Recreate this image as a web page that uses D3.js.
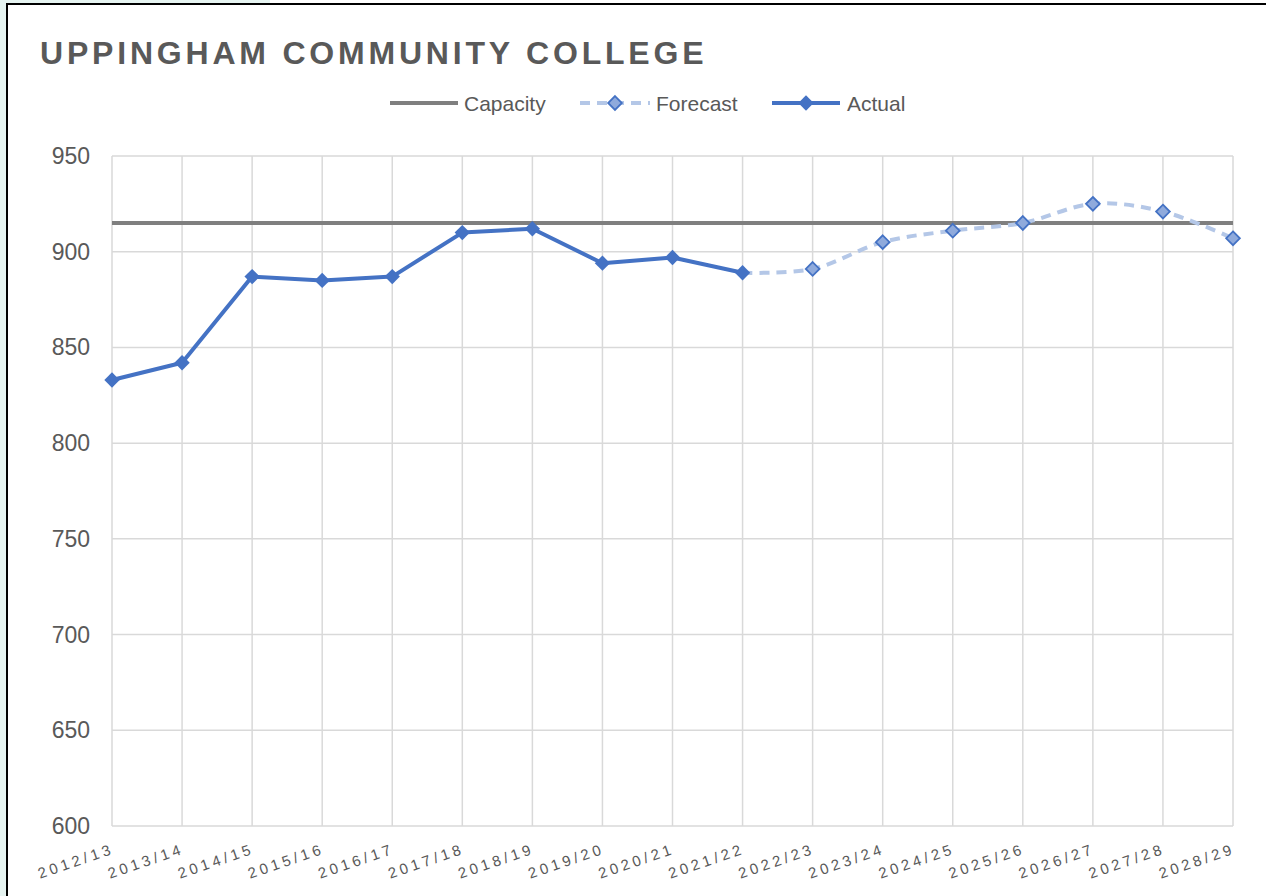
<!DOCTYPE html>
<meta charset="utf-8">
<script src="https://d3js.org/d3.v7.min.js"></script>
<style>
body { margin: 0; background: #fff; }
svg { display: block; }
</style>
<body>
</body>
<script>

// data
var years = ["2012/13", "2013/14", "2014/15", "2015/16", "2016/17", "2017/18", "2018/19",
  "2019/20", "2020/21", "2021/22", "2022/23", "2023/24", "2024/25", "2025/26",
  "2026/27", "2027/28", "2028/29"];
var actual = [833, 842, 887, 885, 887, 910, 912, 894, 897, 889];
var forecastYears = ["2021/22", "2022/23", "2023/24", "2024/25", "2025/26", "2026/27", "2027/28", "2028/29"];
var forecast = [889, 891, 905, 911, 915, 925, 921, 907];
var capacity = 915;
var yTicks = [600, 650, 700, 750, 800, 850, 900, 950];

var width = 1266, height = 896;
var svg = d3.select("body").append("svg")
    .attr("width", width)
    .attr("height", height);

// page background + chart frame
svg.append("rect").attr("width", width).attr("height", height).attr("fill", "#e6f4f1");
svg.append("rect").attr("x", 270).attr("y", 0).attr("width", width - 270).attr("height", 5).attr("fill", "#fff");
svg.append("rect")
    .attr("x", 7).attr("y", 4)
    .attr("width", width + 10).attr("height", height + 10)
    .attr("fill", "#fff")
    .attr("stroke", "#000")
    .attr("stroke-width", 2);

var x = d3.scalePoint().domain(years).range([112, 1233]);
var y = d3.scaleLinear().domain([600, 950]).range([826, 156]);

var font = "'Liberation Sans', Arial, sans-serif";
var grey = "#595959";

// gridlines
svg.append("g").selectAll("line")
  .data(yTicks)
  .enter().append("line")
    .attr("x1", x.range()[0]).attr("x2", x.range()[1])
    .attr("y1", function(d) { return y(d); })
    .attr("y2", function(d) { return y(d); })
    .attr("stroke", "#d9d9d9").attr("stroke-width", 1.5);

svg.append("g").selectAll("line")
  .data(years)
  .enter().append("line")
    .attr("x1", function(d) { return x(d); })
    .attr("x2", function(d) { return x(d); })
    .attr("y1", y(950)).attr("y2", y(600))
    .attr("stroke", "#d9d9d9").attr("stroke-width", 1.5);

// y labels
svg.append("g").selectAll("text")
  .data(yTicks)
  .enter().append("text")
    .attr("x", 90)
    .attr("y", function(d) { return y(d) + 8; })
    .attr("text-anchor", "end")
    .attr("font-family", font)
    .attr("font-size", 23)
    .attr("fill", grey)
    .text(function(d) { return d; });

// x labels (rotated)
svg.append("g").selectAll("text")
  .data(years)
  .enter().append("text")
    .attr("transform", function(d) { return "translate(" + (x(d) + 3) + "," + 853 + ") rotate(-19)"; })
    .attr("text-anchor", "end")
    .attr("font-family", font)
    .attr("font-size", 15)
    .attr("letter-spacing", 3.6)
    .attr("fill", grey)
    .text(function(d) { return d; });

// capacity line
svg.append("line")
    .attr("x1", x.range()[0]).attr("x2", x.range()[1])
    .attr("y1", y(capacity)).attr("y2", y(capacity))
    .attr("stroke", "#7f7f7f").attr("stroke-width", 4);

// forecast
var fData = forecastYears.map(function(d, i) { return {year: d, value: forecast[i]}; });
var fLine = d3.line()
    .x(function(d) { return x(d.year); })
    .y(function(d) { return y(d.value); })
    .curve(d3.curveCardinal.tension(0));

svg.append("path")
    .datum(fData)
    .attr("d", fLine)
    .attr("fill", "none")
    .attr("stroke", "#b4c7e7")
    .attr("stroke-width", 4)
    .attr("stroke-dasharray", "10,7");

var diamond = d3.symbol().type(d3.symbolDiamond2);

svg.append("g").selectAll("path")
  .data(fData.slice(1))
  .enter().append("path")
    .attr("d", diamond.size(120))
    .attr("transform", function(d) { return "translate(" + x(d.year) + "," + y(d.value) + ")"; })
    .attr("fill", "#8faadc")
    .attr("stroke", "#4472c4")
    .attr("stroke-width", 1.8);

// actual
var aData = actual.map(function(v, i) { return {year: years[i], value: v}; });
var aLine = d3.line()
    .x(function(d) { return x(d.year); })
    .y(function(d) { return y(d.value); });

svg.append("path")
    .datum(aData)
    .attr("d", aLine)
    .attr("fill", "none")
    .attr("stroke", "#4472c4")
    .attr("stroke-width", 4)
    .attr("stroke-linejoin", "round");

svg.append("g").selectAll("path")
  .data(aData)
  .enter().append("path")
    .attr("d", diamond.size(150))
    .attr("transform", function(d) { return "translate(" + x(d.year) + "," + y(d.value) + ")"; })
    .attr("fill", "#4472c4");

// title
svg.append("text")
    .attr("x", 40).attr("y", 64)
    .attr("font-family", font)
    .attr("font-weight", "bold")
    .attr("font-size", 32)
    .attr("letter-spacing", 3.8)
    .attr("fill", grey)
    .text("UPPINGHAM COMMUNITY COLLEGE");

// legend
var legend = svg.append("g").attr("font-family", font).attr("font-size", 21).attr("fill", grey);

legend.append("line").attr("x1", 390).attr("x2", 458).attr("y1", 103).attr("y2", 103)
    .attr("stroke", "#7f7f7f").attr("stroke-width", 4);
legend.append("text").attr("x", 464).attr("y", 111).text("Capacity");

legend.append("line").attr("x1", 580).attr("x2", 650).attr("y1", 103).attr("y2", 103)
    .attr("stroke", "#b4c7e7").attr("stroke-width", 4).attr("stroke-dasharray", "10,7");
legend.append("path").attr("d", diamond.size(120)).attr("transform", "translate(615,103)")
    .attr("fill", "#8faadc").attr("stroke", "#4472c4").attr("stroke-width", 1.8);
legend.append("text").attr("x", 656).attr("y", 111).text("Forecast");

legend.append("line").attr("x1", 772).attr("x2", 840).attr("y1", 103).attr("y2", 103)
    .attr("stroke", "#4472c4").attr("stroke-width", 4);
legend.append("path").attr("d", diamond.size(150)).attr("transform", "translate(806,103)")
    .attr("fill", "#4472c4");
legend.append("text").attr("x", 847).attr("y", 111).text("Actual");

</script>
